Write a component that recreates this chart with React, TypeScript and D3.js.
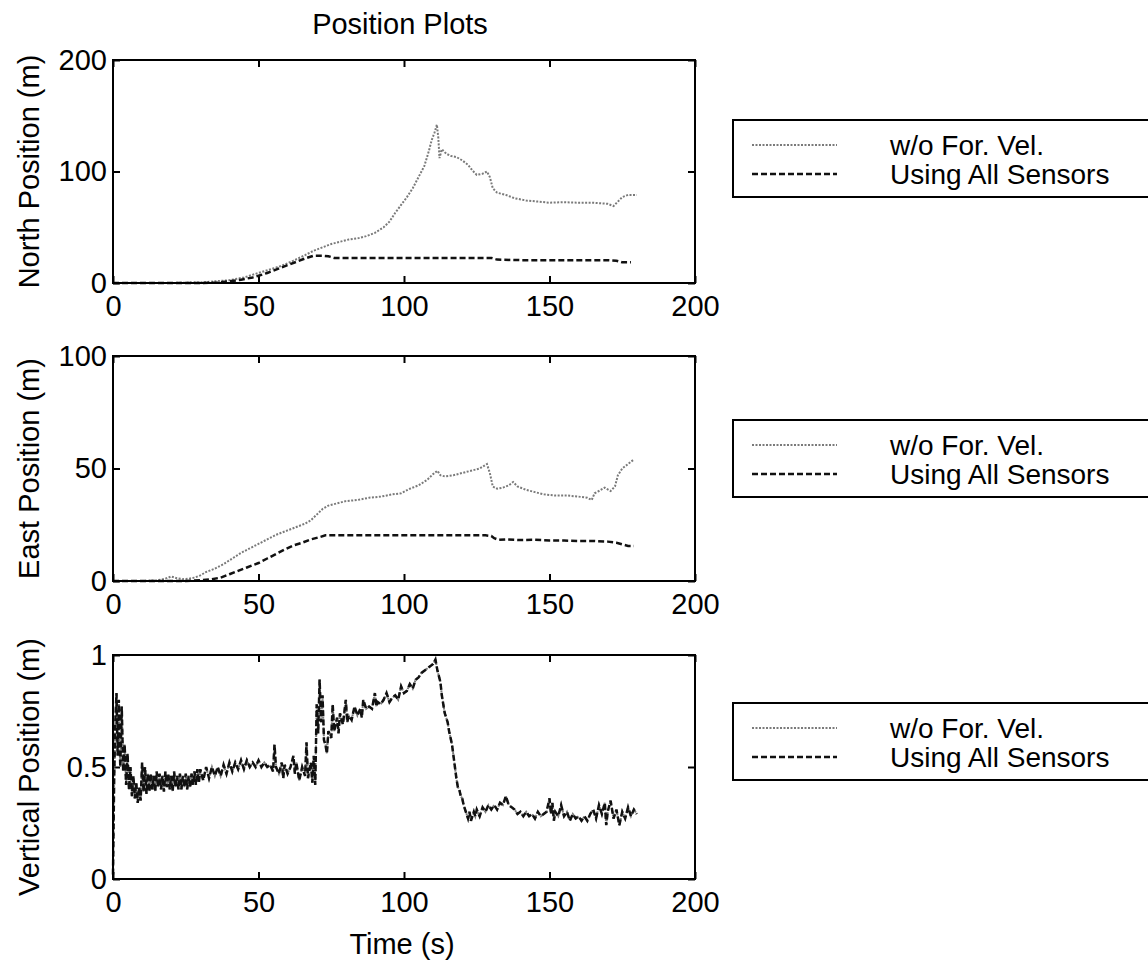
import React, { useEffect, useRef } from 'react';
import * as d3 from 'd3';

// values (time in s, position in m)
const xTicks = [0, 50, 100, 150, 200];
const northTicks = [0, 100, 200];
const eastTicks = [0, 50, 100];
const vertTicks = [0, 0.5, 1];
const legendLabels = ['w/o For. Vel.', 'Using All Sensors'];

const northWo: [number, number][] = [
  [0, 0], [10, 0], [20, 0], [25, 0.3], [30, 0.5], [35, 1.5], [40, 2.5], [45, 5], [50, 9], [55, 13],
  [58, 15.5], [62, 20], [66, 25], [69, 29], [72, 32], [75, 35], [78, 37], [81, 39], [84, 40], [87, 42],
  [90, 45], [93, 50], [95, 55], [97, 63], [99, 70], [101, 77], [103, 85], [105, 95], [107, 105],
  [108.5, 118], [109.5, 128], [110.5, 135], [111.3, 142], [111.8, 130], [112.2, 112], [113, 120],
  [114.5, 116], [116, 114], [118, 113], [120, 110], [122, 106], [123.5, 101], [125, 97], [127, 98],
  [128.5, 100], [129.5, 95], [130.5, 85], [132, 81], [135, 79], [138, 76], [142, 74], [146, 73],
  [150, 72], [155, 72.5], [160, 72], [165, 72], [170, 71], [172, 69], [173.5, 73], [175, 77],
  [177, 79], [180, 79],
];
const northAll: [number, number][] = [
  [0, 0], [20, 0], [30, 0], [36, 0.5], [40, 1.5], [44, 3], [48, 5], [50, 6.5], [53, 9], [56, 12],
  [60, 16], [63, 19], [66, 22], [69, 24.5], [72, 24.5], [74, 24], [76, 22.5], [80, 22.5], [90, 22.5],
  [100, 22.5], [110, 22.5], [120, 22.5], [130, 22.5], [132, 21], [140, 20.5], [150, 20.5],
  [160, 20.5], [170, 20.5], [173, 20], [175, 18.5], [178, 18.5],
];

const eastWo: [number, number][] = [
  [0, 0], [10, 0], [15, 0.3], [18, 1], [20, 2], [22, 1.2], [24, 0.8], [26, 1], [28, 1.5], [30, 2.5],
  [32, 4], [35, 5.5], [38, 7.5], [41, 10], [44, 12.5], [47, 14.5], [50, 16.5], [53, 18.5], [56, 20.5],
  [60, 22.5], [63, 24], [66, 25.5], [68, 27], [70, 29.5], [72, 32], [74, 33.5], [77, 34.5],
  [80, 35.5], [84, 36], [88, 37], [92, 37.5], [96, 38.5], [99, 39], [102, 41], [105, 42.5],
  [108, 45], [110, 47.5], [111.5, 49], [112.5, 47], [114, 46.5], [117, 47], [120, 48], [123, 49],
  [126, 50], [128.5, 52], [129.5, 48], [130.5, 42], [132, 41], [134, 41.5], [136, 42.5],
  [137.5, 44], [139, 42], [142, 40.5], [145, 39.5], [148, 38.5], [152, 38], [156, 38], [160, 37.5],
  [163, 37], [164.5, 36], [165.5, 39], [167, 40], [169, 41.5], [171, 40], [172.5, 42], [173.5, 47],
  [175, 50], [177, 52], [179, 54],
];
const eastAll: [number, number][] = [
  [0, 0], [10, 0], [20, 0], [25, 0], [30, 0.3], [34, 0.8], [37, 1.5], [40, 3], [43, 4.5], [46, 6],
  [50, 8], [53, 10], [56, 12], [59, 14], [62, 15.8], [65, 17], [68, 18.5], [71, 19.5], [73, 20.3],
  [80, 20.3], [90, 20.3], [100, 20.3], [110, 20.3], [120, 20.3], [128, 20.3], [130, 20], [131, 19],
  [132.5, 18.3], [135, 18.5], [140, 18.2], [145, 18.3], [150, 18], [155, 18], [160, 17.8],
  [165, 17.8], [170, 17.5], [173, 17], [175, 16.3], [177, 15.6], [179, 15.6],
];

const vertAll: [number, number][] = [
  [0, 0.02], [0.4, 0.45], [0.8, 0.7], [1.2, 0.83], [1.6, 0.55], [2, 0.8], [2.5, 0.5], [3, 0.77],
  [3.5, 0.48], [4, 0.6], [4.5, 0.42], [5, 0.56], [5.5, 0.4], [6, 0.5], [6.5, 0.37], [7, 0.46],
  [7.5, 0.36], [8, 0.43], [8.5, 0.34], [9, 0.41], [9.5, 0.35], [10, 0.52], [10.5, 0.39], [11, 0.5],
  [11.5, 0.38], [12, 0.47], [12.5, 0.39], [13, 0.47], [13.5, 0.4], [14, 0.46], [14.5, 0.39],
  [15, 0.48], [15.5, 0.41], [16, 0.47], [16.5, 0.4], [17, 0.46], [17.5, 0.39], [18, 0.48],
  [18.5, 0.41], [19, 0.47], [19.5, 0.4], [20, 0.46], [20.5, 0.39], [21, 0.48], [21.5, 0.41],
  [22, 0.46], [22.5, 0.4], [23, 0.47], [23.5, 0.4], [24, 0.46], [24.5, 0.41], [25, 0.47],
  [25.5, 0.4], [26, 0.46], [26.5, 0.41], [27, 0.47], [27.5, 0.42], [28, 0.48], [28.5, 0.42],
  [29, 0.49], [29.5, 0.43], [30, 0.49], [31, 0.44], [32, 0.5], [33, 0.45], [34, 0.5], [35, 0.46],
  [36, 0.5], [37, 0.46], [38, 0.51], [39, 0.47], [40, 0.52], [41, 0.48], [42, 0.52], [43, 0.49],
  [44, 0.53], [45, 0.49], [46, 0.53], [47, 0.5], [48, 0.52], [49, 0.5], [50, 0.53], [51, 0.5],
  [52, 0.52], [53, 0.5], [54, 0.51], [55, 0.48], [55.5, 0.6], [56, 0.5], [57, 0.47], [58, 0.52],
  [58.5, 0.45], [59, 0.51], [60, 0.47], [61, 0.5], [62, 0.55], [62.5, 0.47], [63, 0.52], [64, 0.44],
  [65, 0.5], [66, 0.46], [66.5, 0.61], [67, 0.45], [68, 0.52], [68.5, 0.43], [69, 0.55], [69.5, 0.42],
  [70, 0.78], [70.5, 0.65], [71, 0.89], [71.5, 0.7], [72, 0.82], [72.5, 0.62], [73, 0.6],
  [73.5, 0.56], [74, 0.66], [75, 0.63], [75.5, 0.78], [76, 0.66], [77, 0.72], [77.5, 0.65],
  [78, 0.74], [79, 0.69], [80, 0.8], [80.5, 0.7], [81, 0.73], [82, 0.71], [83, 0.77], [84, 0.73],
  [85, 0.76], [85.5, 0.72], [86, 0.8], [87, 0.76], [88, 0.77], [89, 0.76], [90, 0.83], [90.5, 0.77],
  [91, 0.79], [92, 0.78], [93, 0.8], [94, 0.83], [95, 0.79], [96, 0.81], [97, 0.82], [98, 0.8],
  [99, 0.86], [100, 0.83], [101, 0.84], [102, 0.87], [103, 0.85], [104, 0.89], [105, 0.9],
  [106, 0.92], [107, 0.93], [108, 0.94], [109, 0.95], [110, 0.96], [110.8, 0.98], [111.5, 0.93],
  [112.5, 0.88], [113, 0.82], [113.5, 0.78], [114, 0.74], [115, 0.7], [115.5, 0.66], [116, 0.63],
  [116.5, 0.6], [117, 0.55], [117.5, 0.5], [118, 0.45], [118.5, 0.41], [119, 0.4], [119.5, 0.37],
  [120, 0.36], [120.5, 0.33], [121, 0.31], [121.5, 0.29], [122, 0.27], [122.5, 0.3], [123, 0.26],
  [124, 0.3], [124.5, 0.28], [125, 0.31], [126, 0.28], [127, 0.32], [128, 0.3], [129, 0.33],
  [130, 0.31], [131, 0.33], [132, 0.31], [133, 0.34], [134, 0.33], [135, 0.37], [136, 0.33],
  [137, 0.32], [138, 0.31], [139, 0.29], [140, 0.3], [141, 0.28], [142, 0.3], [143, 0.28],
  [144, 0.29], [145, 0.27], [146, 0.3], [147, 0.28], [148, 0.29], [149, 0.3], [150, 0.36],
  [150.5, 0.29], [151, 0.34], [151.5, 0.26], [152, 0.3], [153, 0.28], [154, 0.33], [155, 0.28],
  [156, 0.3], [157, 0.26], [158, 0.29], [159, 0.27], [160, 0.28], [161, 0.26], [162, 0.28],
  [163, 0.26], [164, 0.29], [165, 0.31], [166, 0.27], [167, 0.33], [168, 0.29], [169, 0.34],
  [169.5, 0.24], [170, 0.3], [171, 0.35], [172, 0.27], [173, 0.31], [174, 0.24], [175, 0.3],
  [176, 0.27], [177, 0.32], [178, 0.28], [179, 0.31], [180, 0.29],
];
// in the reference the two vertical traces lie on top of each other
const vertWo = vertAll;

const FONT = '"Liberation Sans", Arial, Helvetica, sans-serif';
const FS = 29;

const panels = [
  { top: 60, bottom: 283, yMax: 200, yTicks: northTicks, label: 'North Position (m)', wo: northWo, all: northAll, legendTop: 120 },
  { top: 356, bottom: 581, yMax: 100, yTicks: eastTicks, label: 'East Position (m)', wo: eastWo, all: eastAll, legendTop: 420 },
  { top: 655, bottom: 879, yMax: 1, yTicks: vertTicks, label: 'Vertical Position (m)', wo: vertWo, all: vertAll, legendTop: 703 },
];

const woStyle = { stroke: '#7a7a7a', width: 2, dash: '2 1.5' };
const allStyle = { stroke: '#111', width: 2.5, dash: '6 3' };

const App = () => {
  const svgRef = useRef<SVGSVGElement>(null);

  useEffect(() => {
    const svg = d3.select(svgRef.current);
    svg.selectAll('*').remove();

    const left = 113;
    const right = 695;
    const x = d3.scaleLinear().domain([0, 200]).range([left, right]);

    panels.forEach((p) => {
      const y = d3.scaleLinear().domain([0, p.yMax]).range([p.bottom, p.top]);
      const g = svg.append('g');

      // ticks point inside the box on all four sides
      const bx = g.append('g')
        .attr('transform', `translate(0,${p.bottom})`)
        .call(d3.axisBottom(x).tickValues(xTicks).tickSizeInner(-7).tickSizeOuter(0).tickPadding(12));
      const tx = g.append('g')
        .attr('transform', `translate(0,${p.top})`)
        .call(d3.axisTop(x).tickValues(xTicks).tickSizeInner(-7).tickSizeOuter(0).tickFormat(() => ''));
      const ly = g.append('g')
        .attr('transform', `translate(${left},0)`)
        .call(d3.axisLeft(y).tickValues(p.yTicks).tickSizeInner(-7).tickSizeOuter(0).tickPadding(6)
          .tickFormat((d) => d3.format('~g')(d as number)));
      const ry = g.append('g')
        .attr('transform', `translate(${right},0)`)
        .call(d3.axisRight(y).tickValues(p.yTicks).tickSizeInner(-7).tickSizeOuter(0).tickFormat(() => ''));

      [bx, tx, ly, ry].forEach((a) => {
        a.select('.domain').remove();
        a.selectAll('line').attr('stroke', '#000').attr('stroke-width', 2);
        a.selectAll('text').attr('font-family', FONT).attr('font-size', FS).attr('fill', '#000');
      });

      const line = d3.line<[number, number]>()
        .x((d) => x(d[0]))
        .y((d) => y(d[1]));

      g.append('path')
        .datum(p.wo)
        .attr('fill', 'none')
        .attr('stroke', woStyle.stroke)
        .attr('stroke-width', woStyle.width)
        .attr('stroke-dasharray', woStyle.dash)
        .attr('d', line);

      g.append('path')
        .datum(p.all)
        .attr('fill', 'none')
        .attr('stroke', allStyle.stroke)
        .attr('stroke-width', allStyle.width)
        .attr('stroke-dasharray', allStyle.dash)
        .attr('d', line);

      g.append('rect')
        .attr('x', left).attr('y', p.top)
        .attr('width', right - left).attr('height', p.bottom - p.top)
        .attr('fill', 'none').attr('stroke', '#000').attr('stroke-width', 2);

      g.append('text')
        .attr('transform', `translate(39,${(p.top + p.bottom) / 2}) rotate(-90)`)
        .attr('text-anchor', 'middle')
        .attr('font-family', FONT).attr('font-size', FS)
        .text(p.label);

      // legend, its right side runs off the page as in the reference
      const lg = g.append('g').attr('transform', `translate(733,${p.legendTop})`);
      lg.append('rect')
        .attr('width', 440).attr('height', 77)
        .attr('fill', '#fff').attr('stroke', '#000').attr('stroke-width', 2);
      [woStyle, allStyle].forEach((s, i) => {
        const yy = 25 + i * 29;
        lg.append('line')
          .attr('x1', 19).attr('x2', 104).attr('y1', yy).attr('y2', yy)
          .attr('stroke', s.stroke).attr('stroke-width', s.width)
          .attr('stroke-dasharray', s.dash);
        lg.append('text')
          .attr('x', 157).attr('y', yy)
          .attr('dominant-baseline', 'central')
          .attr('font-family', FONT).attr('font-size', 28)
          .text(legendLabels[i]);
      });
    });

    svg.append('text')
      .attr('x', 400).attr('y', 34)
      .attr('text-anchor', 'middle')
      .attr('font-family', FONT).attr('font-size', FS)
      .text('Position Plots');

    svg.append('text')
      .attr('x', 402).attr('y', 954)
      .attr('text-anchor', 'middle')
      .attr('font-family', FONT).attr('font-size', FS)
      .text('Time (s)');
  }, []);

  return (
    <svg
      ref={svgRef}
      width={1148}
      height={970}
      style={{ position: 'absolute', left: 0, top: 0, background: '#fff' }}
    />
  );
};

export default App;
